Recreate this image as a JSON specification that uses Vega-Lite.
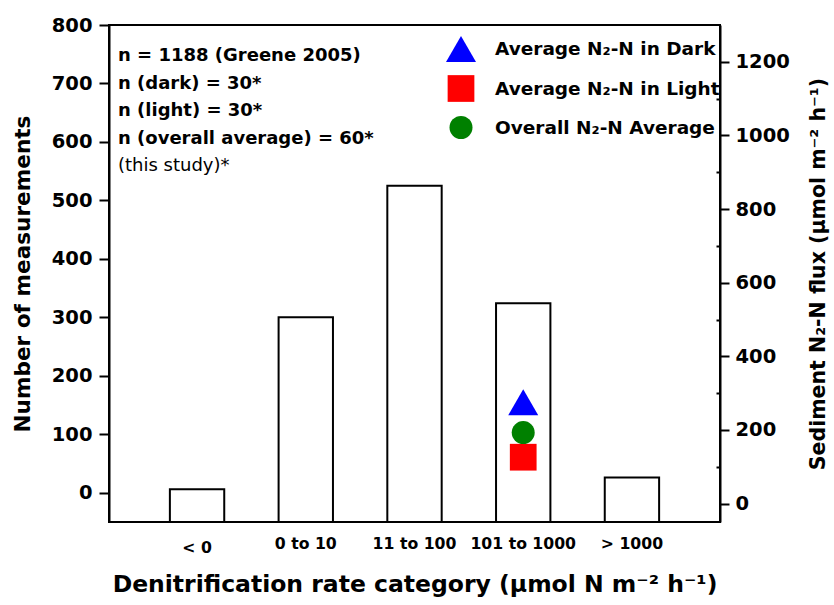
{
  "$schema": "https://vega.github.io/schema/vega-lite/v6.json",
  "width": 611,
  "height": 497,
  "autosize": {"type": "none"},
  "padding": {"left": 109, "top": 25, "right": 114, "bottom": 83},
  "background": "white",
  "config": {
    "font": "DejaVu Sans",
    "view": {"stroke": "black", "strokeWidth": 2},
    "axis": {
      "grid": false,
      "domainColor": "black",
      "domainWidth": 2,
      "tickColor": "black",
      "tickWidth": 2,
      "labelColor": "black",
      "titleColor": "black",
      "labelFont": "DejaVu Sans",
      "titleFont": "DejaVu Sans",
      "labelFontWeight": "bold",
      "titleFontWeight": "bold"
    }
  },
  "title": {
    "text": ["n = 1188  (Greene 2005)", "n (dark) = 30*", "n (light) = 30*", "n (overall average) = 60*"],
    "subtitle": "(this study)*",
    "anchor": "start",
    "frame": "group",
    "orient": "top",
    "offset": 0,
    "font": "DejaVu Sans",
    "fontSize": 18,
    "fontWeight": "bold",
    "color": "black",
    "lineHeight": 27.5,
    "subtitleFont": "DejaVu Sans",
    "subtitleFontSize": 18,
    "subtitleFontWeight": "normal",
    "subtitleColor": "black",
    "subtitleLineHeight": 27.5,
    "subtitlePadding": 9.5,
    "dx": 9,
    "dy": 160
  },
  "datasets": {
    "counts": [
      {"category": "< 0", "count": 6},
      {"category": "0 to 10", "count": 300},
      {"category": "11 to 100", "count": 525},
      {"category": "101 to 1000", "count": 324},
      {"category": "> 1000", "count": 26}
    ],
    "flux": [
      {"category": "101 to 1000", "series": "Average N₂-N in Dark", "flux": 275},
      {"category": "101 to 1000", "series": "Average N₂-N in Light", "flux": 126},
      {"category": "101 to 1000", "series": "Overall N₂-N Average", "flux": 193}
    ]
  },
  "layer": [
    {
      "data": {"name": "counts"},
      "mark": {"type": "bar", "fill": "white", "stroke": "black", "strokeWidth": 2},
      "encoding": {
        "x": {
          "field": "category",
          "type": "nominal",
          "sort": ["< 0", "0 to 10", "11 to 100", "101 to 1000", "> 1000"],
          "scale": {
            "domain": ["< 0", "0 to 10", "11 to 100", "101 to 1000", "> 1000"],
            "paddingInner": 0.5,
            "paddingOuter": 0.56
          },
          "axis": {
            "title": "Denitrification rate category (µmol N m⁻² h⁻¹)",
            "titleFontSize": 23.5,
            "titlePadding": 18,
            "labelAngle": 0,
            "labelFontSize": 15.7,
            "labelPadding": {"condition": {"test": "datum.value === '< 0'", "value": 18}, "value": 14},
            "domain": false,
            "ticks": false,
            "tickSize": 0
          }
        },
        "y": {
          "field": "count",
          "type": "quantitative",
          "scale": {"domain": [-50, 800], "nice": false, "zero": false},
          "axis": {
            "title": "Number of measurements",
            "titleFontSize": 21.6,
            "titlePadding": 17,
            "values": [0, 100, 200, 300, 400, 500, 600, 700, 800],
            "tickSize": 10,
            "labelPadding": 7,
            "labelFontSize": 19.5
          }
        },
        "y2": {"datum": -50}
      }
    },
    {
      "data": {"name": "flux"},
      "mark": {"type": "point", "filled": true, "opacity": 1, "strokeWidth": 0},
      "encoding": {
        "x": {"field": "category", "type": "nominal", "sort": ["< 0", "0 to 10", "11 to 100", "101 to 1000", "> 1000"]},
        "y": {
          "field": "flux",
          "type": "quantitative",
          "scale": {"domain": [-50, 1300], "nice": false, "zero": false},
          "axis": {
            "orient": "right",
            "title": "Sediment N₂-N flux (µmol m⁻² h⁻¹)",
            "titleAngle": 270,
            "titleBaseline": "top",
            "titleFontSize": 20.5,
            "titlePadding": 19,
            "values": [0, 100, 200, 300, 400, 500, 600, 700, 800, 900, 1000, 1100, 1200],
            "format": "d",
            "labelExpr": "datum.value % 200 === 0 ? datum.label : ''",
            "tickSize": {"condition": {"test": "datum.value % 200 === 0", "value": 9}, "value": -4},
            "labelPadding": 6,
            "labelFontSize": 19.5
          }
        },
        "shape": {
          "field": "series",
          "type": "nominal",
          "scale": {
            "domain": ["Average N₂-N in Dark", "Average N₂-N in Light", "Overall N₂-N Average"],
            "range": ["triangle-up", "square", "circle"]
          },
          "legend": {
            "orient": "none",
            "legendX": 336,
            "legendY": 8,
            "title": null,
            "padding": 0,
            "labelFont": "DejaVu Sans",
            "labelFontSize": 18.5,
            "labelFontWeight": "bold",
            "labelColor": "black",
            "labelOffset": 18,
            "labelLimit": 400,
            "rowPadding": 12,
            "gridAlign": "all"
          }
        },
        "color": {
          "field": "series",
          "type": "nominal",
          "scale": {
            "domain": ["Average N₂-N in Dark", "Average N₂-N in Light", "Overall N₂-N Average"],
            "range": ["#0000ff", "#ff0000", "#008000"]
          }
        },
        "size": {
          "field": "series",
          "type": "nominal",
          "scale": {
            "domain": ["Average N₂-N in Dark", "Average N₂-N in Light", "Overall N₂-N Average"],
            "range": [900, 529, 676]
          }
        }
      }
    }
  ],
  "resolve": {"scale": {"y": "independent"}}
}
